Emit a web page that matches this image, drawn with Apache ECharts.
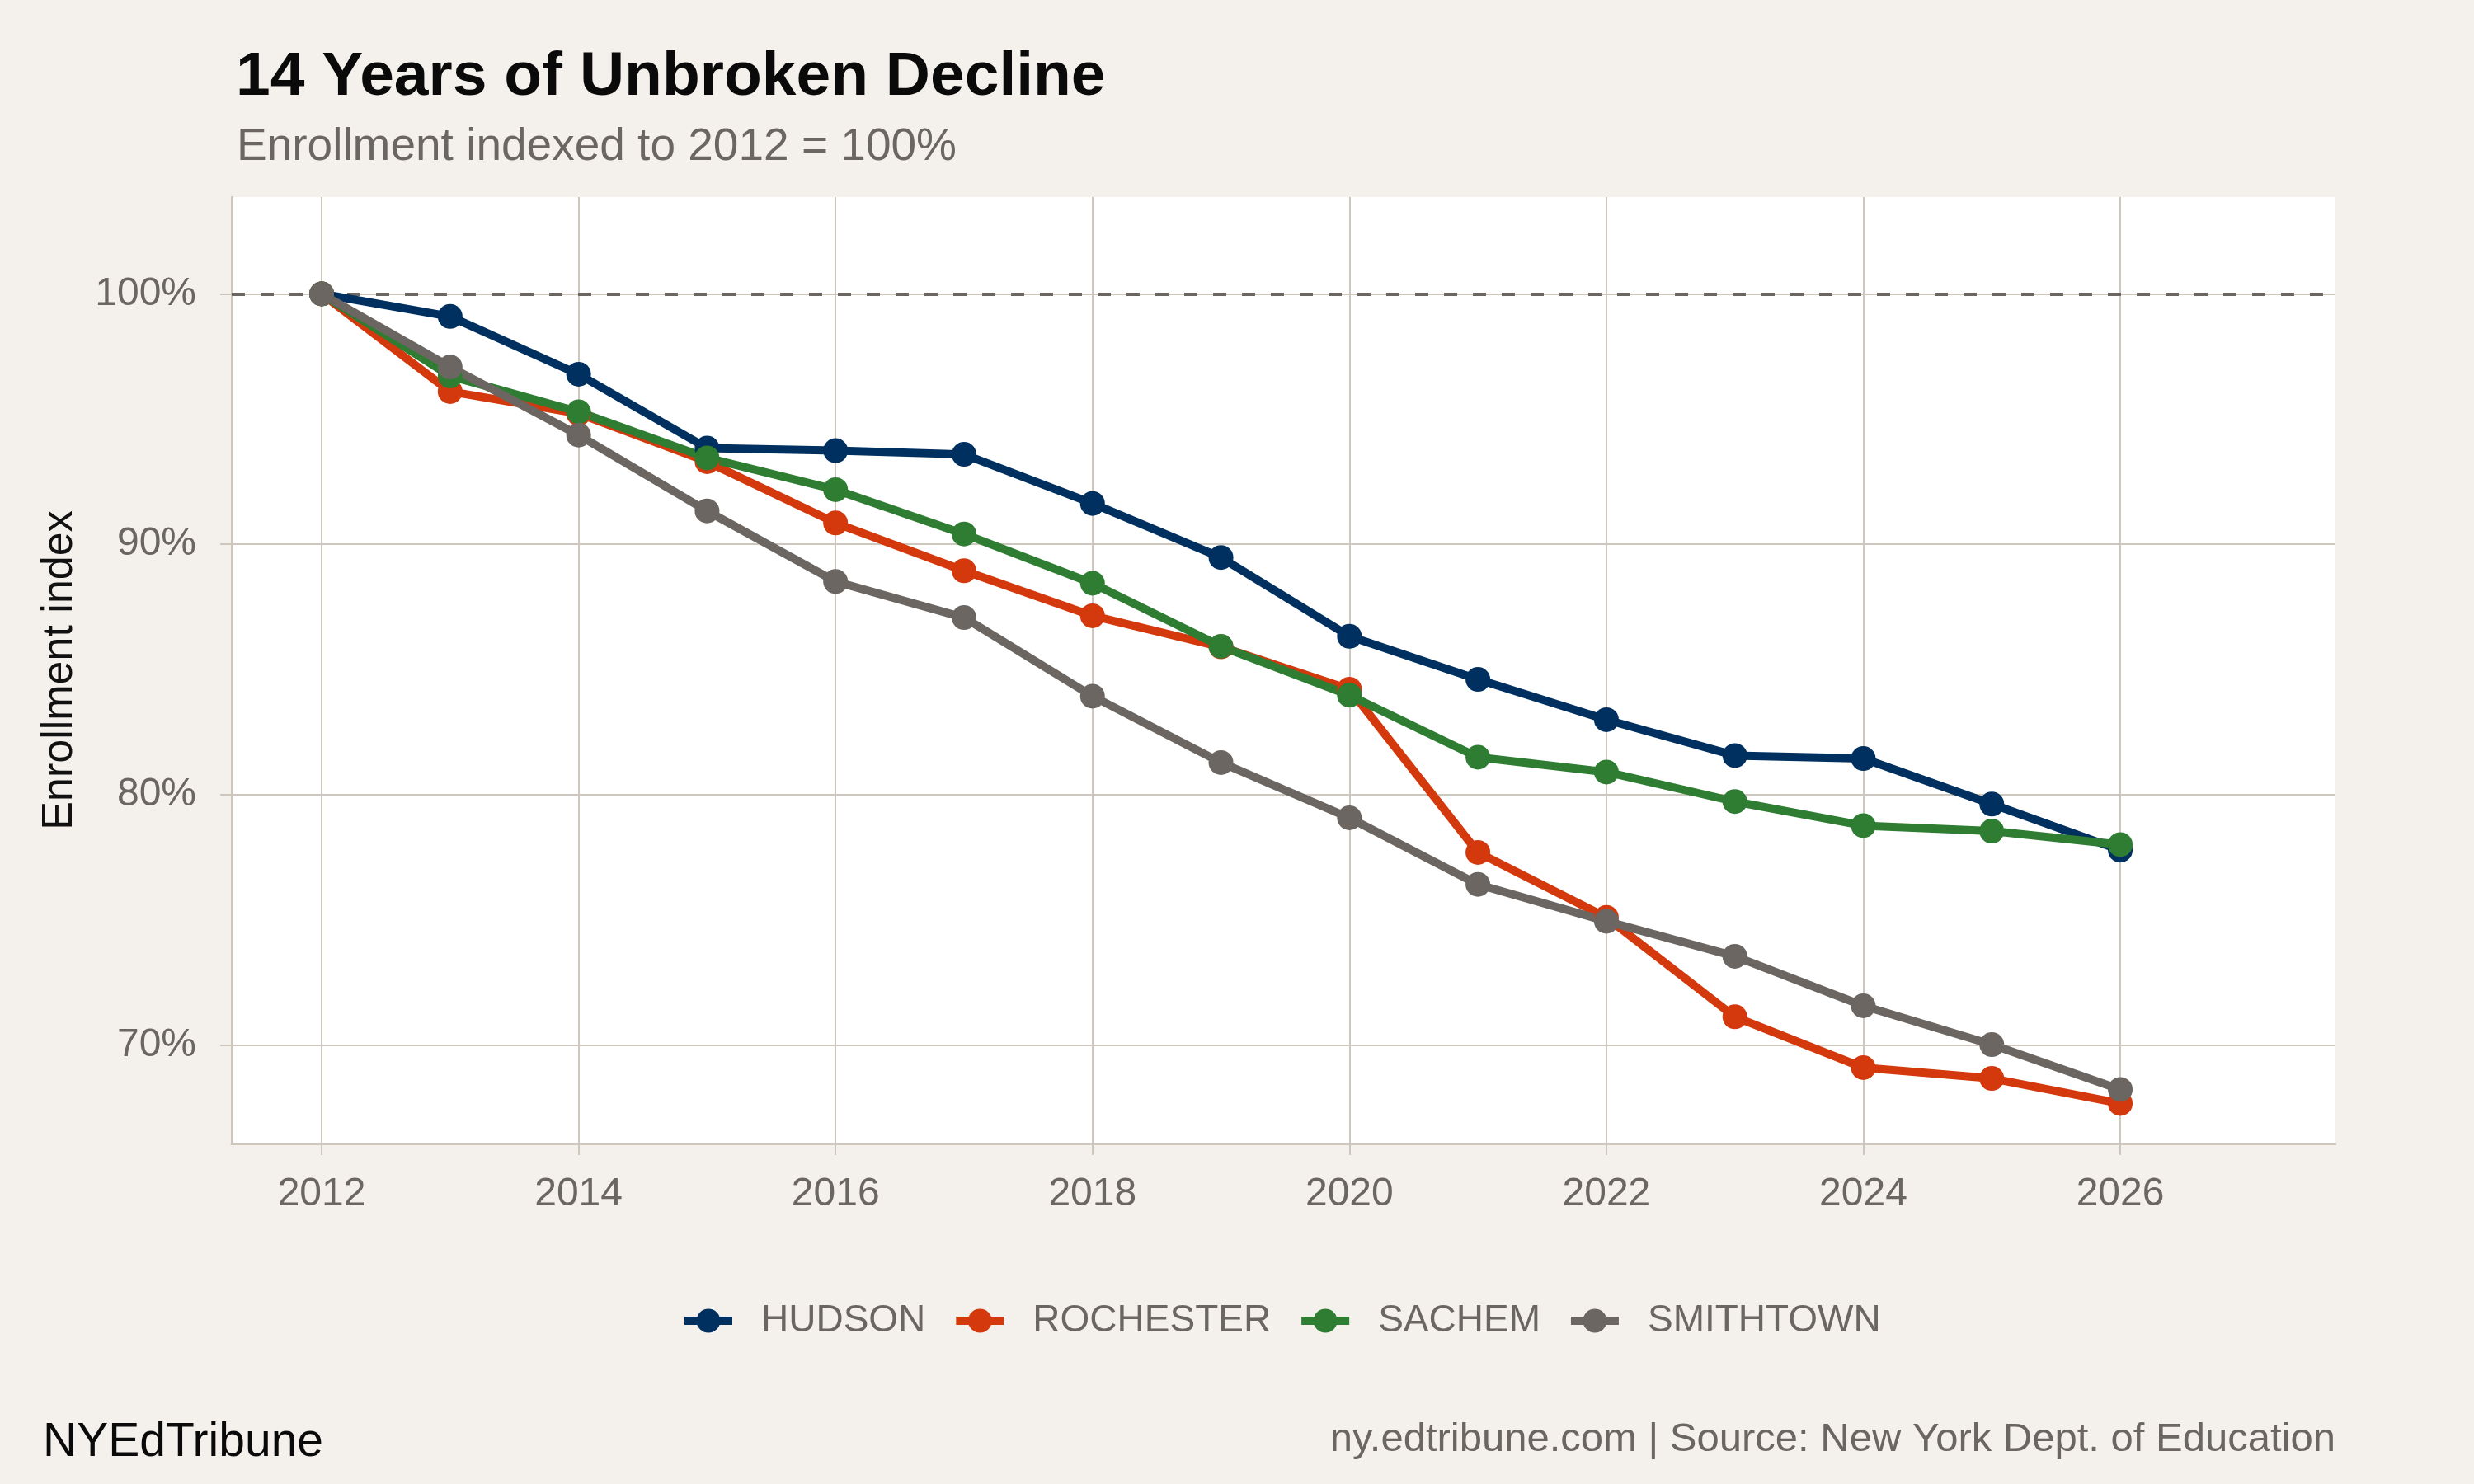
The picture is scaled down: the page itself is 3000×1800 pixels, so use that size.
<!DOCTYPE html>
<html>
<head>
<meta charset="utf-8">
<script src="https://cdn.jsdelivr.net/npm/echarts@6/dist/echarts.min.js"></script>
<style>
html,body{margin:0;padding:0;background:#F4F1EC;}
#chart{width:3000px;height:1800px;}
</style>
</head>
<body>
<div id="chart"></div>
<script>
const years = [2012,2013,2014,2015,2016,2017,2018,2019,2020,2021,2022,2023,2024,2025,2026];
const hudson    = [100, 99.10, 96.79, 93.84, 93.74, 93.59, 91.63, 89.47, 86.32, 84.60, 82.99, 81.56, 81.44, 79.62, 77.78];
const rochester = [100, 96.10, 95.22, 93.30, 90.85, 88.94, 87.14, 85.90, 84.21, 77.69, 75.09, 71.12, 69.09, 68.66, 67.66];
const sachem    = [100, 96.72, 95.29, 93.45, 92.18, 90.41, 88.44, 85.92, 83.97, 81.49, 80.90, 79.72, 78.76, 78.54, 78.00];
const smithtown = [100, 97.08, 94.36, 91.33, 88.51, 87.07, 83.93, 81.28, 79.07, 76.41, 74.94, 73.54, 71.56, 70.01, 68.22];
const seriesNames = ['HUDSON','ROCHESTER','SACHEM','SMITHTOWN'];
const xTicks = [2012,2014,2016,2018,2020,2022,2024,2026];
const yTicks = [70,80,90,100];
const baseline = 100;

const colors = ['#00305F','#D4380D','#2E7D32','#6B6661'];
const seriesData = [hudson, rochester, sachem, smithtown];
const FONT = '"Liberation Sans", Arial, Helvetica, sans-serif';
const GRID = '#CEC7BD';
const TXT = '#6B6661';

const chart = echarts.init(document.getElementById('chart'), null, {renderer:'canvas'});

const series = seriesNames.map((name, i) => {
  const s = {
    name: name,
    type: 'line',
    data: years.map((y, j) => [y, seriesData[i][j]]),
    symbol: 'circle',
    symbolSize: 30,
    showSymbol: true,
    lineStyle: {width: 10, color: colors[i]},
    itemStyle: {color: colors[i]},
    emphasis: {disabled: true},
    z: 3
  };
  if (i === 0) {
    s.markLine = {
      silent: true,
      symbol: ['none','none'],
      label: {show: false},
      lineStyle: {type: [16,19], color: TXT, width: 4},
      data: [{yAxis: baseline}],
      z: 2
    };
  }
  return s;
});

const option = {
  animation: false,
  backgroundColor: '#F4F1EC',
  title: [
    {text: '14 Years of Unbroken Decline', left: 281, top: 52,
     textStyle: {fontFamily: FONT, fontSize: 75, fontWeight: 'bold', color: '#0A0A0A'}},
    {text: 'Enrollment indexed to 2012 = 100%', left: 282, top: 146,
     textStyle: {fontFamily: FONT, fontSize: 55, fontWeight: 'normal', color: TXT}}
  ],
  grid: {left: 281, right: 168, top: 239, bottom: 413, show: true, backgroundColor: '#FFFFFF', borderWidth: 0, containLabel: false},
  legend: {
    data: seriesNames,
    left: 820, top: 1574,
    itemWidth: 58, itemHeight: 36, itemGap: 32,
    lineStyle: {width: 10},
    textStyle: {fontFamily: FONT, fontSize: 46, color: TXT, padding: [0,0,0,30]}
  },
  xAxis: {
    type: 'value', min: 2011.3, max: 2027.675,
    axisLine: {show: true, lineStyle: {color: GRID, width: 3}},
    axisTick: {show: true, length: 14, lineStyle: {color: GRID, width: 2}, customValues: xTicks},
    axisLabel: {fontFamily: FONT, fontSize: 48, color: TXT, margin: 38, customValues: xTicks, formatter: v => String(v)},
    splitLine: {show: true, lineStyle: {color: GRID, width: 2}}
  },
  yAxis: {
    type: 'value', min: 66.06, max: 103.87,
    name: 'Enrollment index', nameLocation: 'middle', nameGap: 182,
    nameTextStyle: {fontFamily: FONT, fontSize: 52, color: '#111111'},
    axisLine: {show: true, lineStyle: {color: GRID, width: 3}},
    axisTick: {show: true, length: 14, lineStyle: {color: GRID, width: 2}, customValues: yTicks},
    axisLabel: {fontFamily: FONT, fontSize: 48, color: TXT, margin: 43, customValues: yTicks, formatter: v => v + '%'},
    splitLine: {show: true, lineStyle: {color: GRID, width: 2}}
  },
  graphic: [
    {type: 'text', left: 52, top: 1722, style: {text: 'NYEdTribune', fontFamily: FONT, fontSize: 57, fill: '#0A0A0A'}},
    {type: 'text', right: 168, top: 1722, style: {text: 'ny.edtribune.com | Source: New York Dept. of Education', fontFamily: FONT, fontSize: 49, fill: TXT}}
  ],
  series: series
};
chart.setOption(option);
</script>
</body>
</html>
